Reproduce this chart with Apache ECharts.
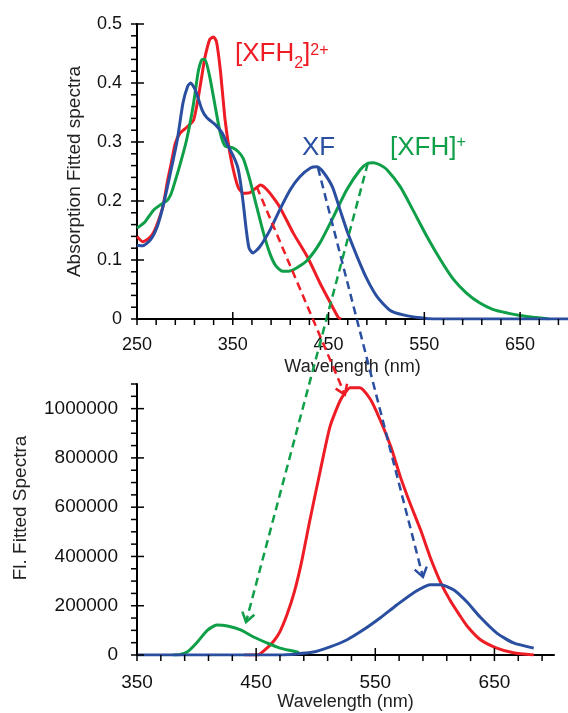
<!DOCTYPE html>
<html><head><meta charset="utf-8">
<script src="https://cdn.jsdelivr.net/npm/echarts@6/dist/echarts.min.js"></script>
<style>html,body{margin:0;padding:0;background:#fff}#c{width:568px;height:713px}</style>
</head><body><div id="c"></div>
<script>
// ---------- data (absorption, top panel) ----------
const absRed = [[250,0.14],[256,0.131],[262,0.136],[267,0.146],[272,0.165],[277,0.19],[282,0.235],[286,0.266],[290,0.298],[295,0.315],[302,0.325],[309,0.337],[314,0.376],[318,0.415],[321,0.444],[326,0.474],[330,0.478],[333,0.47],[337,0.422],[342,0.337],[347,0.281],[352,0.243],[356,0.222],[361,0.213],[368,0.214],[375,0.223],[379,0.227],[384,0.222],[389,0.213],[399,0.19],[413,0.146],[428,0.105],[441,0.061],[452,0.027],[460,0.003],[463,0]];
const absGreen = [[250,0.154],[258,0.164],[267,0.184],[274,0.193],[281,0.2],[285,0.21],[288,0.224],[295,0.262],[302,0.305],[309,0.365],[314,0.42],[318,0.44],[321,0.44],[326,0.41],[331,0.366],[337,0.315],[342,0.293],[350,0.29],[356,0.283],[361,0.272],[365,0.252],[368,0.235],[375,0.19],[382,0.146],[389,0.11],[395,0.09],[402,0.081],[408,0.081],[417,0.087],[428,0.1],[441,0.129],[455,0.173],[469,0.219],[483,0.253],[491,0.264],[497,0.265],[504,0.261],[511,0.253],[525,0.224],[538,0.185],[553,0.139],[567,0.1],[580,0.068],[594,0.044],[608,0.027],[622,0.016],[637,0.01],[650,0.006],[664,0.003],[680,0]];
const absBlue = [[250,0.125],[256,0.124],[264,0.134],[271,0.156],[277,0.19],[284,0.241],[292,0.303],[298,0.366],[303,0.395],[306,0.4],[311,0.388],[318,0.354],[323,0.341],[332,0.329],[339,0.315],[344,0.297],[350,0.278],[355,0.258],[358,0.232],[361,0.195],[364,0.152],[367,0.12],[371,0.112],[378,0.122],[389,0.151],[399,0.185],[410,0.219],[420,0.241],[431,0.256],[438,0.258],[444,0.25],[454,0.224],[462,0.185],[470,0.146],[480,0.105],[490,0.068],[501,0.037],[514,0.015],[528,0.007],[546,0.002],[560,0],[700,0]];
// ---------- data (fluorescence, bottom panel) ----------
const flRed = [[440,0],[451,0],[459,28000],[465,58000],[470,95000],[476,165000],[482,255000],[488,375000],[495,545000],[504,752000],[512,927000],[521,1037000],[529,1085000],[537,1085000],[546,1037000],[554,955000],[563,846000],[571,724000],[579,618000],[588,508000],[596,398000],[605,293000],[613,220000],[621,160000],[627,118000],[638,63000],[652,28000],[666,9000],[683,0]];
const flGreen = [[380,0],[386,2000],[392,12000],[400,49000],[409,100000],[417,122000],[426,118000],[437,102000],[447,75000],[459,49000],[470,28000],[481,16000],[486,10000]];
const flBlue = [[350,0],[470,0],[498,12000],[512,33000],[526,61000],[540,102000],[554,150000],[568,203000],[582,252000],[596,285000],[605,285000],[616,264000],[627,215000],[638,154000],[652,89000],[666,49000],[683,28000]];
// ---------- arrows (from absorption peak to emission) ----------
const arrowRed = {from:[375,0.224], to:[524.5,1057000]};
const arrowBlue = {from:[439,0.256], to:[590,317000]};
const arrowGreen = {from:[491,0.264], to:[441.5,134000]};
// ---------- axes / ticks ----------
const topXRange = [250,700], topXStep = 10, topXMinor = 20, topXLabels = [250,350,450,550,650];
const topYRange = [0,0.5], topYStep = 0.02, topYMinor = 0.02, topYLabels = [0,0.1,0.2,0.3,0.4,0.5];
const botXRange = [350,700], botXStep = 10, botXMinor = 20, botXLabels = [350,450,550,650];
const botYRange = [0,1100000], botYStep = 50000, botYMinor = 50000, botYLabels = [0,200000,400000,600000,800000,1000000];

const RED = '#ee1c25', GREEN = '#0f9f48', BLUE = '#2a4ea0';
const FONT = 'Arial, "Liberation Sans", Helvetica, sans-serif';

function cats(r, step){ const out=[]; const n=Math.floor((r[1]-r[0])/step+1e-9); for(let i=0;i<=n;i++){ out.push(Number((r[0]+i*step).toFixed(6))); } return out; }
const isIn = (arr, v) => arr.some(m => Math.abs(m - v) < 1e-9);

// category axis used only for the axis line, tick labels and axis name
function labelAxis(gridIndex, dim, range, step, majors, cfg){
  const c = cats(range, step);
  return {type:'category', gridIndex, data:c.map(String), boundaryGap:false,
    position: dim==='x'?'bottom':'left', splitLine:{show:false},
    axisLine:{show:true, onZero:false, lineStyle:{color:'#000', width:2}},
    axisTick:{show:false},
    axisLabel:{show:true, interval:(i)=>isIn(majors, c[i]), margin:cfg.margin, fontSize:cfg.fontSize, color:'#111', fontFamily:FONT},
    name:cfg.name, nameLocation:'middle', nameGap:cfg.nameGap,
    nameTextStyle:{fontSize:cfg.nameSize, color:'#222', fontFamily:FONT, padding:cfg.namePad||0}};
}

const grids = [
  {left:137, top:24, width:431, height:295},
  {left:137, top:384, width:417, height:271}
];

const xAxes = [
  {type:'value', gridIndex:0, min:topXRange[0], max:topXRange[1], show:false},
  labelAxis(0,'x',topXRange,topXStep,topXLabels,{margin:17, fontSize:18, name:'Wavelength (nm)', nameGap:39, nameSize:18}),
  {type:'value', gridIndex:1, min:botXRange[0], max:botXRange[1], show:false},
  labelAxis(1,'x',botXRange,botXStep,botXLabels,{margin:18, fontSize:19, name:'Wavelength (nm)', nameGap:37, nameSize:18})
];
const yAxes = [
  {type:'value', gridIndex:0, min:topYRange[0], max:topYRange[1], show:false},
  labelAxis(0,'y',topYRange,topYStep,topYLabels,{margin:15, fontSize:18, name:'Absorption Fitted spectra', nameGap:53, nameSize:19}),
  {type:'value', gridIndex:1, min:botYRange[0], max:botYRange[1], show:false},
  labelAxis(1,'y',botYRange,botYStep,botYLabels,{margin:19, fontSize:19, name:'Fl. Fitted Spectra', nameGap:107, nameSize:19, namePad:[0,0,0,23]})
];

function lineSeries(data, color, xi, yi){
  return {type:'line', data, xAxisIndex:xi, yAxisIndex:yi, showSymbol:false, symbol:'none', smooth:0.2,
    lineStyle:{color, width:3}, itemStyle:{color}, z:3, silent:true};
}

// tick marks as custom series drawn through the library's coordinate system
function tickSeries(xi, yi, xRange, xMinor, xMajors, yRange, yMinor, yMajors){
  const data = [];
  cats(xRange, xMinor).forEach(v => data.push([v, yRange[0], 0, isIn(xMajors, v) ? 1 : 0]));
  cats(yRange, yMinor).forEach(v => data.push([xRange[0], v, 1, isIn(yMajors, v) ? 1 : 0]));
  return {type:'custom', xAxisIndex:xi, yAxisIndex:yi, data, clip:false, silent:true, z:50, zlevel:1,
    encode:{x:0, y:1},
    renderItem:(params, api) => {
      const p = api.coord([api.value(0), api.value(1)]);
      const vertical = api.value(2) === 0, major = api.value(3) === 1;
      const shape = vertical
        ? {x1:p[0], y1:p[1]+6, x2:p[0], y2:p[1]-(major?7:0)}
        : {x1:p[0]-6, y1:p[1], x2:p[0]+(major?7:0), y2:p[1]};
      return {type:'line', shape, style:{stroke:'#000', lineWidth:1.5, fill:null}};
    }};
}

const option = {
  animation:false,
  grid: grids,
  xAxis: xAxes,
  yAxis: yAxes,
  series: [
    lineSeries(absRed, RED, 0, 0),
    lineSeries(absGreen, GREEN, 0, 0),
    lineSeries(absBlue, BLUE, 0, 0),
    lineSeries(flRed, RED, 2, 2),
    lineSeries(flGreen, GREEN, 2, 2),
    lineSeries(flBlue, BLUE, 2, 2),
    tickSeries(0, 0, topXRange, topXMinor, topXLabels, topYRange, topYMinor, topYLabels),
    tickSeries(2, 2, botXRange, botXMinor, botXLabels, botYRange, botYMinor, botYLabels)
  ]
};

const chart = echarts.init(document.getElementById('c'), null, {renderer:'canvas'});
chart.setOption(option);

function pt(si, v){ return chart.convertToPixel({seriesIndex:si}, v); }

function arrowGraphics(a, color){
  const p1 = pt(0, a.from), p2 = pt(3, a.to);
  const ang = Math.atan2(p1[1]-p2[1], p1[0]-p2[0]);
  const arm = 11, spread = 0.6;
  const l = [p2[0]+arm*Math.cos(ang+spread), p2[1]+arm*Math.sin(ang+spread)];
  const r = [p2[0]+arm*Math.cos(ang-spread), p2[1]+arm*Math.sin(ang-spread)];
  return [
    {type:'line', shape:{x1:p1[0], y1:p1[1], x2:p2[0], y2:p2[1]}, style:{stroke:color, lineWidth:2.5, lineDash:[8,5]}, z:10, silent:true},
    {type:'polyline', shape:{points:[l, p2, r]}, style:{stroke:color, lineWidth:2.5, fill:null}, z:10, silent:true}
  ];
}

const labelFont = 26;
const graphics = [
  ...arrowGraphics(arrowRed, RED),
  ...arrowGraphics(arrowBlue, BLUE),
  ...arrowGraphics(arrowGreen, GREEN),
  {type:'text', x:235, y:36, z:20, silent:true, style:{
    text:'{m|[XFH}{sub|2}{m|]}{sup|2+}', fill:RED, textVerticalAlign:'top',
    rich:{m:{fontSize:labelFont, lineHeight:36, fontFamily:FONT, color:RED},
          sub:{fontSize:16, lineHeight:12, verticalAlign:'bottom', fontFamily:FONT, color:RED},
          sup:{fontSize:16, lineHeight:24, verticalAlign:'top', padding:[7,0,0,0], fontFamily:FONT, color:RED}}}},
  {type:'text', x:302, y:130, z:20, silent:true, style:{
    text:'{m|XF}', fill:BLUE, textVerticalAlign:'top',
    rich:{m:{fontSize:labelFont, lineHeight:36, fontFamily:FONT, color:BLUE}}}},
  {type:'text', x:390, y:130, z:20, silent:true, style:{
    text:'{m|[XFH]}{sup|+}', fill:GREEN, textVerticalAlign:'top',
    rich:{m:{fontSize:labelFont, lineHeight:36, fontFamily:FONT, color:GREEN},
          sup:{fontSize:16, lineHeight:22, verticalAlign:'top', padding:[5,0,0,0], fontFamily:FONT, color:GREEN}}}}
];
chart.setOption({graphic: graphics});
</script>
</body></html>
